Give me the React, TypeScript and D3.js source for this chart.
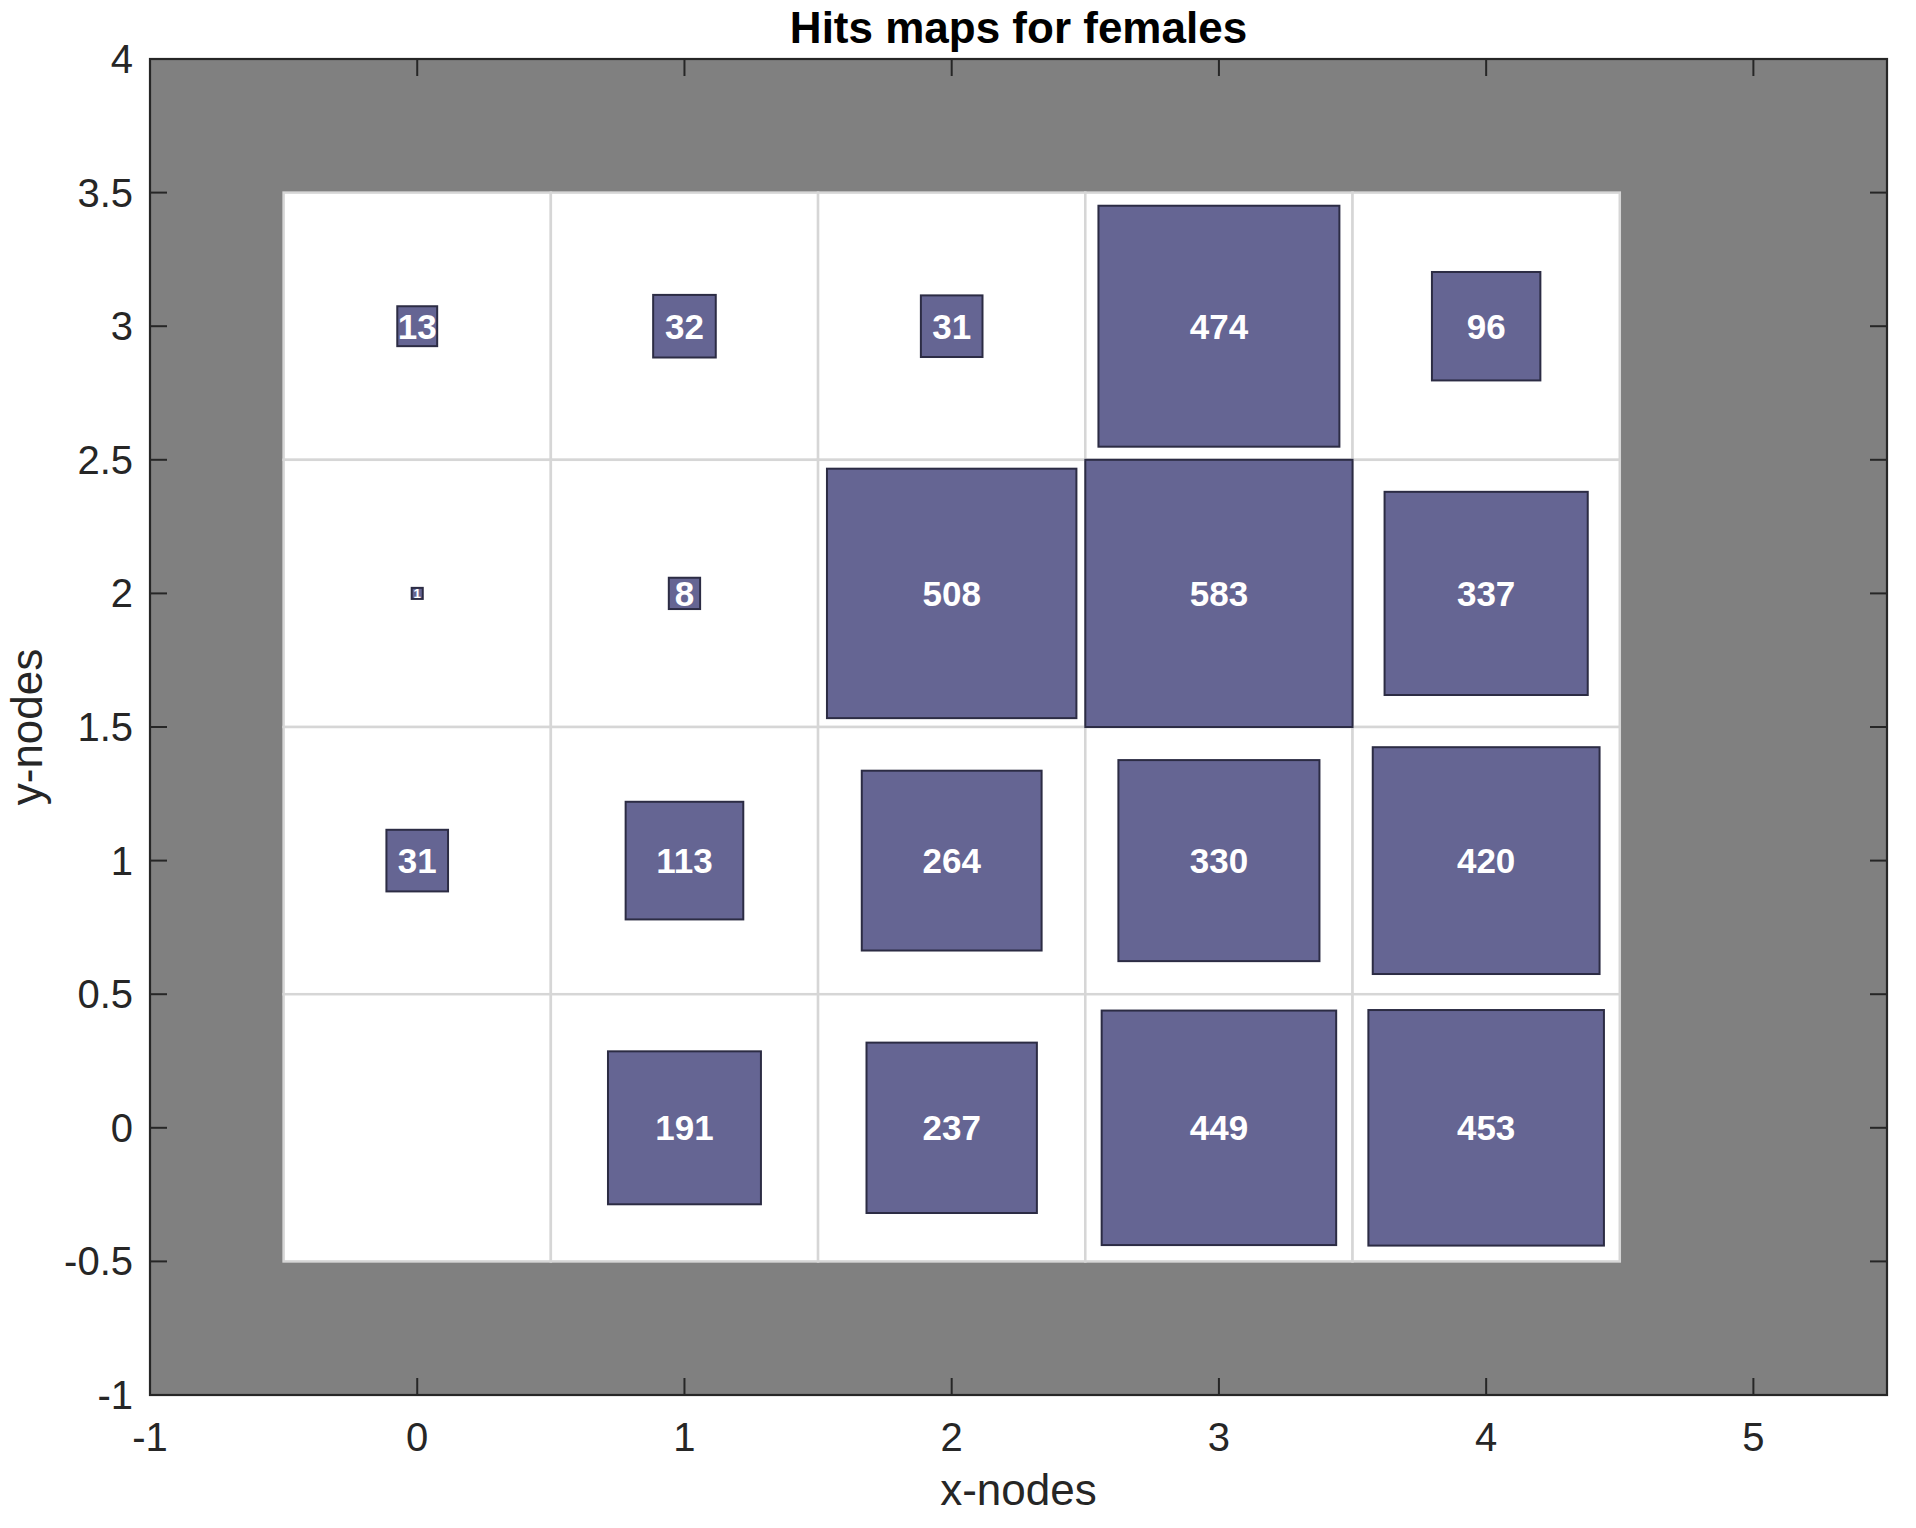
import React from "react";
import * as d3 from "d3";

// Node grid (5 x 4) and hit counts, rows from y=3 (top) down to y=0
const xNodes = [0, 1, 2, 3, 4];
const yNodes = [3, 2, 1, 0];
const hitsRow3 = [13, 32, 31, 474, 96];
const hitsRow2 = [1, 8, 508, 583, 337];
const hitsRow1 = [31, 113, 264, 330, 420];
const hitsRow0 = [0, 191, 237, 449, 453];
const hitRows = [hitsRow3, hitsRow2, hitsRow1, hitsRow0];

const xTicks = [-1, 0, 1, 2, 3, 4, 5];
const yTicks = [-1, -0.5, 0, 0.5, 1, 1.5, 2, 2.5, 3, 3.5, 4];
const xDomain = [-1, 5.5];
const yDomain = [-1, 4];

const title = "Hits maps for females";
const xLabel = "x-nodes";
const yLabel = "y-nodes";

const W = 1916;
const H = 1528;
const L = 150;
const R = 1887;
const T = 59;
const B = 1395;
const FONT = "'Liberation Sans', Arial, Helvetica, sans-serif";
const AX = "#262626";

export default function App() {
  const x = d3.scaleLinear().domain(xDomain).range([L, R]);
  const y = d3.scaleLinear().domain(yDomain).range([B, T]);
  const unit = x(1) - x(0);
  const maxHits = d3.max(hitRows.flat()) as number;

  const cells: { cx: number; cy: number; h: number }[] = [];
  yNodes.forEach((yn, ri) => {
    xNodes.forEach((xn, ci) => {
      cells.push({ cx: xn, cy: yn, h: hitRows[ri][ci] });
    });
  });

  const tickLen = 17;
  const fmt = (v: number) => (Number.isInteger(v) ? String(v) : String(v));

  return (
    <div style={{ position: "absolute", left: 0, top: 0 }}>
      <svg width={W} height={H} style={{ display: "block", background: "#fff" }}>
        {/* axes background */}
        <rect x={L} y={T} width={R - L} height={B - T} fill="#808080" />
        {/* neuron cells */}
        {cells.map((c, i) => (
          <rect
            key={"cell" + i}
            x={x(c.cx - 0.5)}
            y={y(c.cy + 0.5)}
            width={unit}
            height={unit}
            fill="#ffffff"
            stroke="#d6d6d6"
            strokeWidth={2.5}
          />
        ))}
        {/* hit patches */}
        {cells
          .filter((c) => c.h > 0)
          .map((c, i) => {
            const s = Math.sqrt(c.h / maxHits);
            const px = s * unit;
            const fs = Math.min(35, px * 1.2);
            return (
              <g key={"hit" + i}>
                <rect
                  x={x(c.cx - s / 2)}
                  y={y(c.cy + s / 2)}
                  width={px}
                  height={px}
                  fill="#656593"
                  stroke="#2c2c44"
                  strokeWidth={2}
                />
                <text
                  x={x(c.cx)}
                  y={y(c.cy) + fs * 0.36}
                  textAnchor="middle"
                  fontFamily={FONT}
                  fontWeight="bold"
                  fontSize={fs}
                  fill="#ffffff"
                >
                  {c.h}
                </text>
              </g>
            );
          })}
        {/* axes box */}
        <rect x={L} y={T} width={R - L} height={B - T} fill="none" stroke={AX} strokeWidth={2.2} />
        {/* ticks */}
        {xTicks.map((t) => (
          <g key={"xt" + t}>
            <line x1={x(t)} x2={x(t)} y1={B} y2={B - tickLen} stroke={AX} strokeWidth={2} />
            <line x1={x(t)} x2={x(t)} y1={T} y2={T + tickLen} stroke={AX} strokeWidth={2} />
            <text
              x={x(t)}
              y={B + 56}
              textAnchor="middle"
              fontFamily={FONT}
              fontSize={40}
              fill={AX}
            >
              {fmt(t)}
            </text>
          </g>
        ))}
        {yTicks.map((t) => (
          <g key={"yt" + t}>
            <line x1={L} x2={L + tickLen} y1={y(t)} y2={y(t)} stroke={AX} strokeWidth={2} />
            <line x1={R} x2={R - tickLen} y1={y(t)} y2={y(t)} stroke={AX} strokeWidth={2} />
            <text
              x={133}
              y={y(t) + 14}
              textAnchor="end"
              fontFamily={FONT}
              fontSize={40}
              fill={AX}
            >
              {fmt(t)}
            </text>
          </g>
        ))}
        {/* title and labels */}
        <text
          x={(L + R) / 2}
          y={43}
          textAnchor="middle"
          fontFamily={FONT}
          fontWeight="bold"
          fontSize={44}
          fill="#000"
        >
          {title}
        </text>
        <text
          x={(L + R) / 2}
          y={1505}
          textAnchor="middle"
          fontFamily={FONT}
          fontSize={44}
          fill={AX}
        >
          {xLabel}
        </text>
        <text
          transform={`translate(42,${(T + B) / 2}) rotate(-90)`}
          textAnchor="middle"
          fontFamily={FONT}
          fontSize={44}
          fill={AX}
        >
          {yLabel}
        </text>
      </svg>
    </div>
  );
}
